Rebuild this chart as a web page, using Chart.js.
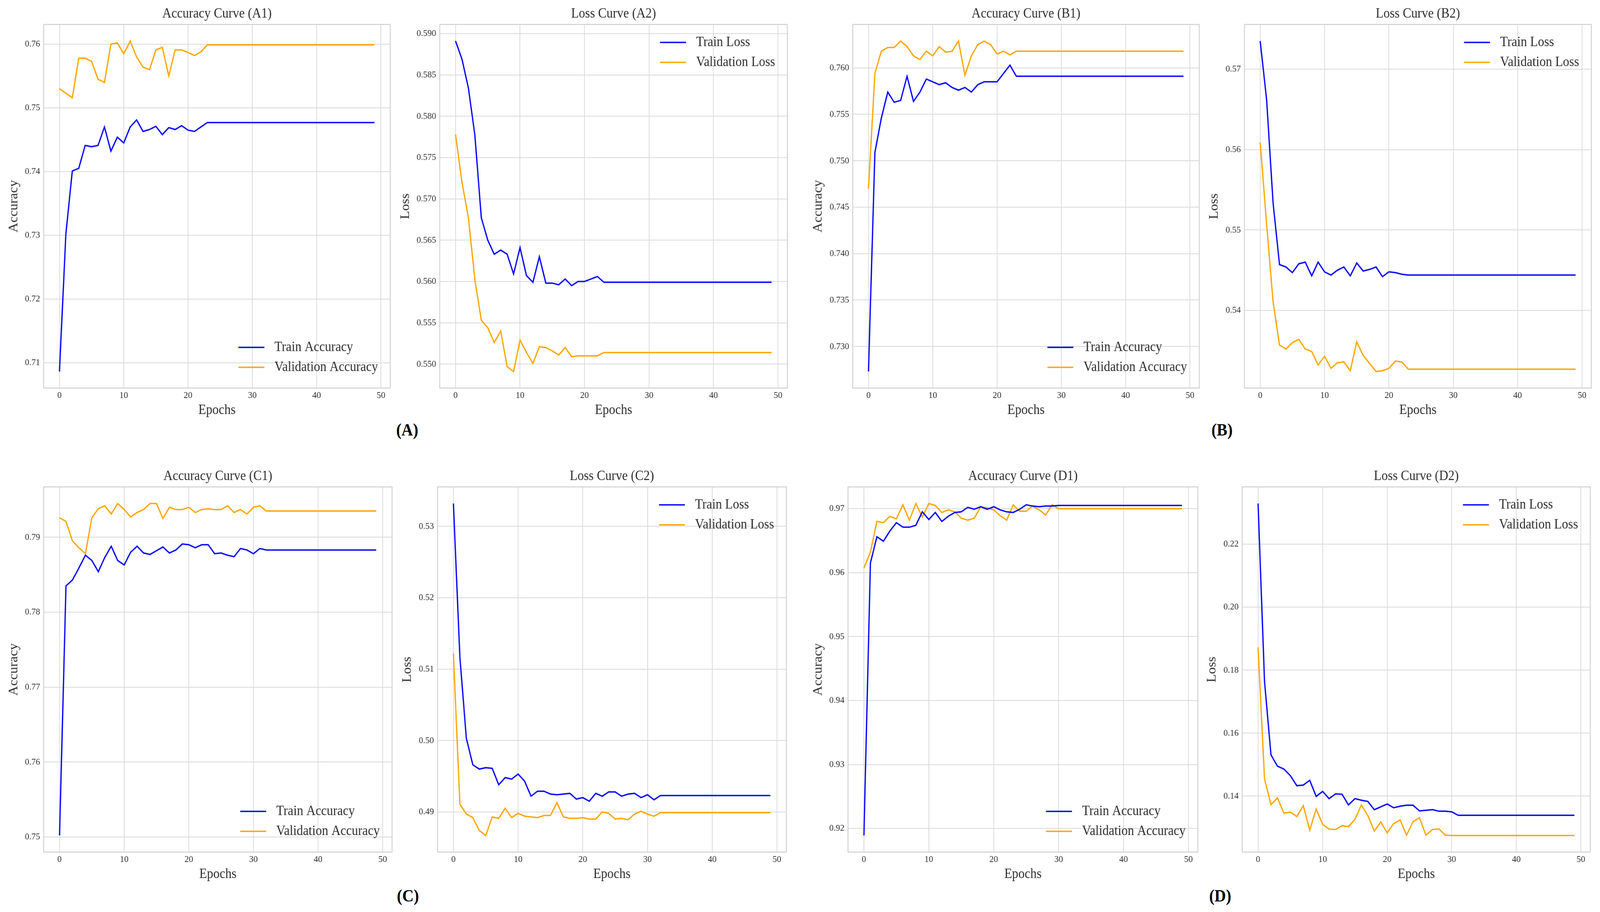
<!DOCTYPE html>
<html>
<head>
<meta charset="utf-8">
<title>Training curves (A)-(D)</title>
<script src="https://cdn.jsdelivr.net/npm/chart.js@4.4.1/dist/chart.umd.min.js"></script>
<style>
  html, body { margin: 0; padding: 0; background: #fff; overflow: hidden; }
  #page { position: absolute; left: 0; top: 0; width: 4432px; height: 2335px; background: #fff; overflow: hidden; transform-origin: 0 0; }
  .panel { position: absolute; }
  .group { position: absolute; transform: translate(-50%, -50%); font: bold 44px "Liberation Serif", "Times New Roman", serif; color: #000; }
</style>
</head>
<body>
<div id="page"></div>
<script>
// ---------- DATA ----------
const epochs = Array.from({ length: 50 }, (_, i) => i);
const epochTicks = [0, 10, 20, 30, 40, 50];

const trainAccA = [0.7086, 0.7302, 0.7401, 0.7405, 0.7441, 0.7439, 0.7441, 0.7470, 0.7432, 0.7454,
  0.7445, 0.7470, 0.7481, 0.7463, 0.7466, 0.7471, 0.7458, 0.7469, 0.7466, 0.7472,
  0.7465, 0.7463, 0.7470, 0.7477, 0.7477, 0.7477, 0.7477, 0.7477, 0.7477, 0.7477,
  0.7477, 0.7477, 0.7477, 0.7477, 0.7477, 0.7477, 0.7477, 0.7477, 0.7477, 0.7477,
  0.7477, 0.7477, 0.7477, 0.7477, 0.7477, 0.7477, 0.7477, 0.7477, 0.7477, 0.7477];
const valAccA = [0.7530, 0.7523, 0.7516, 0.7578, 0.7578, 0.7573, 0.7545, 0.7540, 0.7600, 0.7602,
  0.7585, 0.7605, 0.7580, 0.7564, 0.7560, 0.7591, 0.7595, 0.7550, 0.7591, 0.7591,
  0.7587, 0.7582, 0.7588, 0.7599, 0.7599, 0.7599, 0.7599, 0.7599, 0.7599, 0.7599,
  0.7599, 0.7599, 0.7599, 0.7599, 0.7599, 0.7599, 0.7599, 0.7599, 0.7599, 0.7599,
  0.7599, 0.7599, 0.7599, 0.7599, 0.7599, 0.7599, 0.7599, 0.7599, 0.7599, 0.7599];
const trainLossA = [0.5891, 0.5869, 0.5834, 0.5777, 0.5677, 0.5650, 0.5633, 0.5638, 0.5633, 0.5609,
  0.5641, 0.5607, 0.5599, 0.5630, 0.5598, 0.5598, 0.5596, 0.5603, 0.5595, 0.5600,
  0.5600, 0.5603, 0.5606, 0.5599, 0.5599, 0.5599, 0.5599, 0.5599, 0.5599, 0.5599,
  0.5599, 0.5599, 0.5599, 0.5599, 0.5599, 0.5599, 0.5599, 0.5599, 0.5599, 0.5599,
  0.5599, 0.5599, 0.5599, 0.5599, 0.5599, 0.5599, 0.5599, 0.5599, 0.5599, 0.5599];
const valLossA = [0.5778, 0.5720, 0.5677, 0.5602, 0.5553, 0.5544, 0.5526, 0.5540, 0.5497, 0.5491,
  0.5529, 0.5514, 0.5501, 0.5521, 0.5520, 0.5516, 0.5511, 0.5520, 0.5509, 0.5510,
  0.5510, 0.5510, 0.5510, 0.5514, 0.5514, 0.5514, 0.5514, 0.5514, 0.5514, 0.5514,
  0.5514, 0.5514, 0.5514, 0.5514, 0.5514, 0.5514, 0.5514, 0.5514, 0.5514, 0.5514,
  0.5514, 0.5514, 0.5514, 0.5514, 0.5514, 0.5514, 0.5514, 0.5514, 0.5514, 0.5514];

const trainAccB = [0.7273, 0.7509, 0.7546, 0.7574, 0.7563, 0.7565, 0.7591, 0.7564, 0.7574, 0.7588,
  0.7585, 0.7582, 0.7584, 0.7579, 0.7576, 0.7579, 0.7574, 0.7582, 0.7585, 0.7585,
  0.7585, 0.7594, 0.7603, 0.7591, 0.7591, 0.7591, 0.7591, 0.7591, 0.7591, 0.7591,
  0.7591, 0.7591, 0.7591, 0.7591, 0.7591, 0.7591, 0.7591, 0.7591, 0.7591, 0.7591,
  0.7591, 0.7591, 0.7591, 0.7591, 0.7591, 0.7591, 0.7591, 0.7591, 0.7591, 0.7591];
const valAccB = [0.7470, 0.7594, 0.7618, 0.7622, 0.7622, 0.7629, 0.7623, 0.7613, 0.7609, 0.7618,
  0.7613, 0.7623, 0.7617, 0.7618, 0.7629, 0.7592, 0.7613, 0.7625, 0.7629, 0.7625,
  0.7615, 0.7618, 0.7614, 0.7618, 0.7618, 0.7618, 0.7618, 0.7618, 0.7618, 0.7618,
  0.7618, 0.7618, 0.7618, 0.7618, 0.7618, 0.7618, 0.7618, 0.7618, 0.7618, 0.7618,
  0.7618, 0.7618, 0.7618, 0.7618, 0.7618, 0.7618, 0.7618, 0.7618, 0.7618, 0.7618];
const trainLossB = [0.5735, 0.5662, 0.5534, 0.5457, 0.5454, 0.5447, 0.5458, 0.5460, 0.5443, 0.5460,
  0.5448, 0.5444, 0.5450, 0.5454, 0.5443, 0.5459, 0.5449, 0.5451, 0.5454, 0.5442,
  0.5448, 0.5447, 0.5445, 0.5444, 0.5444, 0.5444, 0.5444, 0.5444, 0.5444, 0.5444,
  0.5444, 0.5444, 0.5444, 0.5444, 0.5444, 0.5444, 0.5444, 0.5444, 0.5444, 0.5444,
  0.5444, 0.5444, 0.5444, 0.5444, 0.5444, 0.5444, 0.5444, 0.5444, 0.5444, 0.5444];
const valLossB = [0.5609, 0.5507, 0.5411, 0.5357, 0.5352, 0.5360, 0.5364, 0.5352, 0.5349, 0.5332,
  0.5343, 0.5328, 0.5335, 0.5336, 0.5325, 0.5361, 0.5344, 0.5334, 0.5324, 0.5325,
  0.5328, 0.5337, 0.5336, 0.5327, 0.5327, 0.5327, 0.5327, 0.5327, 0.5327, 0.5327,
  0.5327, 0.5327, 0.5327, 0.5327, 0.5327, 0.5327, 0.5327, 0.5327, 0.5327, 0.5327,
  0.5327, 0.5327, 0.5327, 0.5327, 0.5327, 0.5327, 0.5327, 0.5327, 0.5327, 0.5327];

const trainAccC = [0.7502, 0.7835, 0.7843, 0.7859, 0.7876, 0.7869, 0.7854, 0.7873, 0.7888, 0.7869,
  0.7863, 0.7880, 0.7888, 0.7879, 0.7877, 0.7882, 0.7887, 0.7879, 0.7883, 0.7891,
  0.7890, 0.7886, 0.7890, 0.7890, 0.7878, 0.7879, 0.7876, 0.7874, 0.7885, 0.7883,
  0.7878, 0.7885, 0.7883, 0.7883, 0.7883, 0.7883, 0.7883, 0.7883, 0.7883, 0.7883,
  0.7883, 0.7883, 0.7883, 0.7883, 0.7883, 0.7883, 0.7883, 0.7883, 0.7883, 0.7883];
const valAccC = [0.7926, 0.7921, 0.7895, 0.7886, 0.7878, 0.7926, 0.7938, 0.7942, 0.7931, 0.7945,
  0.7937, 0.7927, 0.7933, 0.7937, 0.7945, 0.7945, 0.7925, 0.7940, 0.7937, 0.7937,
  0.7940, 0.7933, 0.7937, 0.7938, 0.7937, 0.7937, 0.7942, 0.7933, 0.7937, 0.7931,
  0.7940, 0.7942, 0.7935, 0.7935, 0.7935, 0.7935, 0.7935, 0.7935, 0.7935, 0.7935,
  0.7935, 0.7935, 0.7935, 0.7935, 0.7935, 0.7935, 0.7935, 0.7935, 0.7935, 0.7935];
const trainLossC = [0.5332, 0.5117, 0.5003, 0.4966, 0.4960, 0.4962, 0.4961, 0.4938, 0.4948, 0.4946,
  0.4953, 0.4943, 0.4922, 0.4929, 0.4929, 0.4925, 0.4924, 0.4925, 0.4926, 0.4918,
  0.4920, 0.4915, 0.4926, 0.4922, 0.4928, 0.4928, 0.4922, 0.4925, 0.4926, 0.4920,
  0.4924, 0.4917, 0.4923, 0.4923, 0.4923, 0.4923, 0.4923, 0.4923, 0.4923, 0.4923,
  0.4923, 0.4923, 0.4923, 0.4923, 0.4923, 0.4923, 0.4923, 0.4923, 0.4923, 0.4923];
const valLossC = [0.5122, 0.4911, 0.4897, 0.4892, 0.4874, 0.4867, 0.4893, 0.4891, 0.4905, 0.4892,
  0.4898, 0.4894, 0.4893, 0.4892, 0.4895, 0.4895, 0.4913, 0.4893, 0.4891, 0.4891,
  0.4892, 0.4890, 0.4890, 0.4900, 0.4898, 0.4890, 0.4891, 0.4889, 0.4897, 0.4901,
  0.4897, 0.4894, 0.4899, 0.4899, 0.4899, 0.4899, 0.4899, 0.4899, 0.4899, 0.4899,
  0.4899, 0.4899, 0.4899, 0.4899, 0.4899, 0.4899, 0.4899, 0.4899, 0.4899, 0.4899];

const trainAccD = [0.9189, 0.9615, 0.9656, 0.9649, 0.9665, 0.9678, 0.9671, 0.9671, 0.9674, 0.9695,
  0.9683, 0.9694, 0.9680, 0.9688, 0.9694, 0.9695, 0.9702, 0.9699, 0.9703, 0.9699,
  0.9703, 0.9698, 0.9695, 0.9694, 0.9699, 0.9706, 0.9704, 0.9703, 0.9704, 0.9704,
  0.9705, 0.9705, 0.9705, 0.9705, 0.9705, 0.9705, 0.9705, 0.9705, 0.9705, 0.9705,
  0.9705, 0.9705, 0.9705, 0.9705, 0.9705, 0.9705, 0.9705, 0.9705, 0.9705, 0.9705];
const valAccD = [0.9607, 0.9632, 0.9680, 0.9678, 0.9688, 0.9684, 0.9706, 0.9682, 0.9708, 0.9687,
  0.9708, 0.9705, 0.9694, 0.9698, 0.9695, 0.9685, 0.9682, 0.9685, 0.9703, 0.9701,
  0.9698, 0.9689, 0.9682, 0.9706, 0.9696, 0.9696, 0.9704, 0.9698, 0.9690, 0.9706,
  0.9700, 0.9700, 0.9700, 0.9700, 0.9700, 0.9700, 0.9700, 0.9700, 0.9700, 0.9700,
  0.9700, 0.9700, 0.9700, 0.9700, 0.9700, 0.9700, 0.9700, 0.9700, 0.9700, 0.9700];
const trainLossD = [0.2329, 0.1764, 0.1531, 0.1495, 0.1486, 0.1465, 0.1433, 0.1435, 0.1450, 0.1399,
  0.1415, 0.1392, 0.1407, 0.1406, 0.1372, 0.1392, 0.1387, 0.1383, 0.1357, 0.1366,
  0.1375, 0.1363, 0.1368, 0.1371, 0.1371, 0.1353, 0.1355, 0.1357, 0.1352, 0.1352,
  0.1350, 0.1339, 0.1339, 0.1339, 0.1339, 0.1339, 0.1339, 0.1339, 0.1339, 0.1339,
  0.1339, 0.1339, 0.1339, 0.1339, 0.1339, 0.1339, 0.1339, 0.1339, 0.1339, 0.1339];
const valLossD = [0.1872, 0.1455, 0.1373, 0.1394, 0.1346, 0.1349, 0.1335, 0.1370, 0.1292, 0.1359,
  0.1310, 0.1295, 0.1294, 0.1306, 0.1303, 0.1326, 0.1372, 0.1338, 0.1289, 0.1318,
  0.1283, 0.1313, 0.1324, 0.1276, 0.1319, 0.1331, 0.1276, 0.1294, 0.1296, 0.1276,
  0.1275, 0.1275, 0.1275, 0.1275, 0.1275, 0.1275, 0.1275, 0.1275, 0.1275, 0.1275,
  0.1275, 0.1275, 0.1275, 0.1275, 0.1275, 0.1275, 0.1275, 0.1275, 0.1275, 0.1275];

const accTicksA = ["0.71", "0.72", "0.73", "0.74", "0.75", "0.76"];
const lossTicksA = ["0.550", "0.555", "0.560", "0.565", "0.570", "0.575", "0.580", "0.585", "0.590"];
const accTicksB = ["0.730", "0.735", "0.740", "0.745", "0.750", "0.755", "0.760"];
const lossTicksB = ["0.54", "0.55", "0.56", "0.57"];
const accTicksC = ["0.75", "0.76", "0.77", "0.78", "0.79"];
const lossTicksC = ["0.49", "0.50", "0.51", "0.52", "0.53"];
const accTicksD = ["0.92", "0.93", "0.94", "0.95", "0.96", "0.97"];
const lossTicksD = ["0.14", "0.16", "0.18", "0.20", "0.22"];

const groupLabels = ["(A)", "(B)", "(C)", "(D)"];

// ---------- STYLE ----------
const FONT = '"Liberation Serif", "Times New Roman", serif';
const TEXT = "#2b2b2b";
const GRID = "#d9d9d9";
const SPINE = "#d0d0d0";
const BLUE = "#0000ff";
const ORANGE = "#ffa500";

const PAGE_W = 4432;
const PAGE_H = 2335;
const TITLE_H = 47.6;   // space above plot area (title)
const XAXIS_H = 80;     // space below plot area (ticks + "Epochs")

// plot rectangles [left, top, right, bottom] in page px, y-title centre x, legend corner
const panels = [
  { title: "Accuracy Curve (A1)", kind: "acc",  train: trainAccA,  val: valAccA,  ticks: accTicksA,  box: [121, 63, 1081, 993],    yTitleX: 39,   legend: "bottom" },
  { title: "Loss Curve (A2)",     kind: "loss", train: trainLossA, val: valLossA, ticks: lossTicksA, box: [1218, 63, 2181, 993],   yTitleX: 1124, legend: "top" },
  { title: "Accuracy Curve (B1)", kind: "acc",  train: trainAccB,  val: valAccB,  ticks: accTicksB,  box: [2362, 63, 3322, 993],   yTitleX: 2267, legend: "bottom" },
  { title: "Loss Curve (B2)",     kind: "loss", train: trainLossB, val: valLossB, ticks: lossTicksB, box: [3447, 63, 4408, 993],   yTitleX: 3364, legend: "top" },
  { title: "Accuracy Curve (C1)", kind: "acc",  train: trainAccC,  val: valAccC,  ticks: accTicksC,  box: [121, 1247, 1086, 2181],  yTitleX: 39,   legend: "bottom" },
  { title: "Loss Curve (C2)",     kind: "loss", train: trainLossC, val: valLossC, ticks: lossTicksC, box: [1212, 1247, 2178, 2181], yTitleX: 1129, legend: "top" },
  { title: "Accuracy Curve (D1)", kind: "acc",  train: trainAccD,  val: valAccD,  ticks: accTicksD,  box: [2349, 1247, 3318, 2181], yTitleX: 2267, legend: "bottom" },
  { title: "Loss Curve (D2)",     kind: "loss", train: trainLossD, val: valLossD, ticks: lossTicksD, box: [3441, 1247, 4405, 2181], yTitleX: 3358, legend: "top" }
];

const groupPos = [[1128, 1100], [3385, 1100], [1130, 2293], [3380, 2293]];

// ---------- PLUGINS ----------
// full box of spines around the axes (matplotlib style)
const framePlugin = {
  id: "frame",
  afterDatasetsDraw(chart) {
    const { ctx, chartArea: a } = chart;
    ctx.save();
    ctx.strokeStyle = SPINE;
    ctx.lineWidth = 2.5;
    ctx.strokeRect(a.left, a.top, a.right - a.left, a.bottom - a.top);
    ctx.restore();
  }
};

// legend drawn inside the plot area, like loc="upper right" / "lower right"
const insideLegend = {
  id: "insideLegend",
  afterDraw(chart, args, opts) {
    const { ctx, chartArea: a } = chart;
    const sets = chart.data.datasets;
    const row = 51;
    ctx.save();
    ctx.font = "35px " + FONT;
    const textW = Math.max(...sets.map(d => ctx.measureText(d.label).width));
    const textX = a.right - 34 - textW;
    const lineEnd = textX - 28;
    const lineStart = lineEnd - 72;
    const firstY = opts.where === "top" ? a.top + 46 : a.bottom - 53 - (sets.length - 1) * row;
    sets.forEach((d, i) => {
      const y = firstY + i * row;
      ctx.strokeStyle = d.borderColor;
      ctx.lineWidth = d.borderWidth;
      ctx.beginPath();
      ctx.moveTo(lineStart, y);
      ctx.lineTo(lineEnd, y);
      ctx.stroke();
      ctx.fillStyle = TEXT;
      ctx.textAlign = "left";
      ctx.textBaseline = "middle";
      ctx.fillText(d.label, textX, y);
    });
    ctx.restore();
  }
};

// ---------- HELPERS ----------
function paddedRange(values) {
  const lo = Math.min(...values);
  const hi = Math.max(...values);
  const m = (hi - lo) * 0.05;
  return [lo - m, hi + m];
}

function toPoints(series) {
  return series.map((v, i) => ({ x: epochs[i], y: v }));
}

// ---------- PAGE FIT ----------
// the figure is laid out at 4432x2335 and fitted to whatever viewport we get
const page = document.getElementById("page");
const sx = (window.innerWidth || PAGE_W) / PAGE_W;
const sy = (window.innerHeight || PAGE_H) / PAGE_H;
page.style.transform = "scale(" + sx + ", " + sy + ")";

// ---------- BUILD ----------
const xRange = paddedRange(epochs);

panels.forEach((p) => {
  const [L, T, R, B] = p.box;
  const left = p.yTitleX - 21;
  const top = T - TITLE_H;
  const yAxisW = L - left;
  const padRight = 3;

  const holder = document.createElement("div");
  holder.className = "panel";
  holder.style.left = left + "px";
  holder.style.top = top + "px";
  holder.style.width = (R - left + padRight) + "px";
  holder.style.height = (B - top + XAXIS_H) + "px";
  const canvas = document.createElement("canvas");
  holder.appendChild(canvas);
  page.appendChild(holder);

  const isAcc = p.kind === "acc";
  const yRange = paddedRange(p.train.concat(p.val));
  const tickValues = p.ticks.map(Number);

  new Chart(canvas.getContext("2d"), {
    type: "line",
    data: {
      datasets: [
        { label: isAcc ? "Train Accuracy" : "Train Loss", data: toPoints(p.train), borderColor: BLUE, backgroundColor: BLUE, borderWidth: 3.5, pointRadius: 0, tension: 0 },
        { label: isAcc ? "Validation Accuracy" : "Validation Loss", data: toPoints(p.val), borderColor: ORANGE, backgroundColor: ORANGE, borderWidth: 3.5, pointRadius: 0, tension: 0 }
      ]
    },
    options: {
      responsive: true,
      maintainAspectRatio: false,
      animation: false,
      events: [],
      layout: { padding: { left: 0, top: 0, right: padRight, bottom: 0 } },
      plugins: {
        legend: { display: false },
        tooltip: { enabled: false },
        title: {
          display: true,
          text: p.title,
          fullSize: false,
          color: TEXT,
          font: { family: FONT, size: 35, weight: "normal", lineHeight: 1.2 },
          padding: { top: 0, bottom: TITLE_H - 42 }
        },
        insideLegend: { where: p.legend }
      },
      scales: {
        x: {
          type: "linear",
          min: xRange[0],
          max: xRange[1],
          afterBuildTicks: (s) => { s.ticks = epochTicks.map(v => ({ value: v })); },
          afterFit: (s) => { s.height = XAXIS_H; },
          grid: { color: GRID, lineWidth: 2, drawTicks: false },
          border: { display: false },
          ticks: { color: TEXT, font: { family: FONT, size: 24 }, padding: 5, maxRotation: 0, autoSkip: false },
          title: { display: true, text: "Epochs", color: TEXT, font: { family: FONT, size: 35, lineHeight: 1.2 }, padding: { top: 0, bottom: 2 } }
        },
        y: {
          type: "linear",
          min: yRange[0],
          max: yRange[1],
          afterBuildTicks: (s) => { s.ticks = tickValues.map(v => ({ value: v })); },
          afterFit: (s) => { s.width = yAxisW; },
          grid: { color: GRID, lineWidth: 2, drawTicks: false },
          border: { display: false },
          ticks: { color: TEXT, font: { family: FONT, size: 24 }, padding: 10, autoSkip: false, callback: (v, i) => p.ticks[i] },
          title: { display: true, text: isAcc ? "Accuracy" : "Loss", color: TEXT, font: { family: FONT, size: 35, lineHeight: 1.2 }, padding: { top: 0, bottom: 0 } }
        }
      }
    },
    plugins: [framePlugin, insideLegend]
  });
});

// ---------- GROUP LABELS ----------
groupLabels.forEach((txt, i) => {
  const el = document.createElement("div");
  el.className = "group";
  el.textContent = txt;
  el.style.left = groupPos[i][0] + "px";
  el.style.top = groupPos[i][1] + "px";
  page.appendChild(el);
});
</script>
</body>
</html>
